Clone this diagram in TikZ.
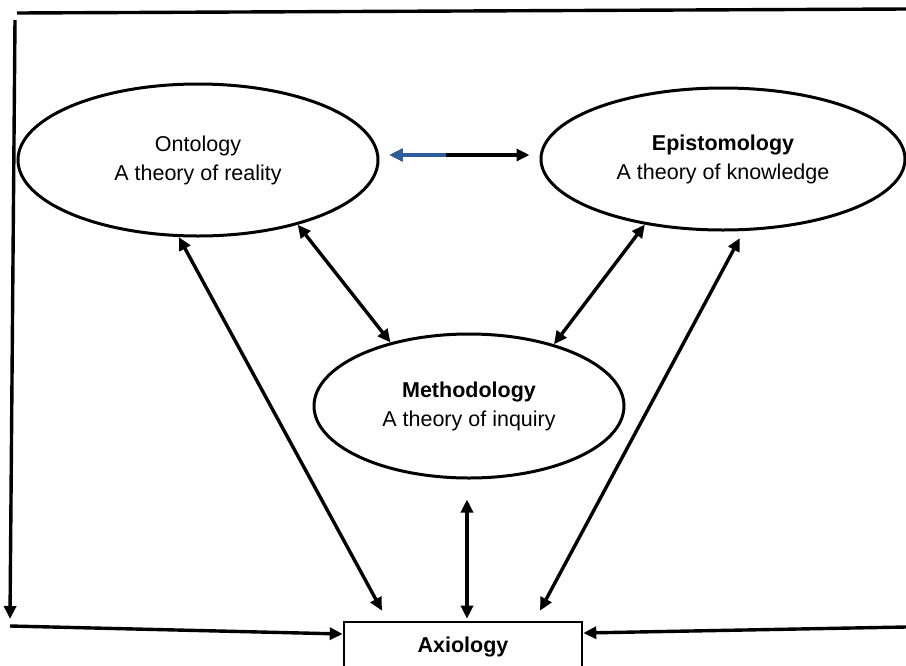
\documentclass[tikz,border=0pt]{standalone}
\usepackage{fontspec}
\setmainfont{Liberation Sans}
\usetikzlibrary{shapes.geometric,arrows.meta,calc}
\definecolor{arrblue}{HTML}{2F5C9A}
\begin{document}
\begin{tikzpicture}[x=1pt,y=-1pt,
  ell/.style={draw, ellipse, line width=3pt, inner sep=0pt, align=center, font=\fontsize{21.5}{29}\selectfont},
  tip/.style={Triangle[length=13pt,width=12pt]},
  arr/.style={line width=3.4pt, {Triangle[length=13pt,width=12pt]}-{Triangle[length=13pt,width=12pt]}},
  one/.style={line width=3.4pt, -{Triangle[length=13pt,width=12pt]}},
  frame/.style={line width=3.4pt}
]
\useasboundingbox (0,0) rectangle (906,665);
\node[ell, minimum width=360pt, minimum height=152pt] (ont) at (198,160) {Ontology\\A theory of reality};
\node[ell, minimum width=364pt, minimum height=142pt] (epi) at (723,159) {\textbf{Epistomology}\\A theory of knowledge};
\node[ell, minimum width=310pt, minimum height=144pt] (meth) at (469,406) {\textbf{Methodology}\\A theory of inquiry};
\node[draw, line width=2.6pt, minimum width=238pt, minimum height=50pt, inner sep=0pt, font=\fontsize{21.5}{26}\selectfont\bfseries] (axi) at (463,647) {Axiology};
% frame
\coordinate (tl) at (17,13);
\coordinate (tr) at (906,9);
\coordinate (lt) at (15,20);
\coordinate (lb) at (10,619);
\coordinate (bl) at (10,626);
\coordinate (br) at (906,627);
\draw[frame] (tl) -- (tr);
\draw[one] (lt) -- (lb);
\draw[one] (bl) -- ([yshift=13pt]axi.west);
\draw[one] (br) -- ([yshift=14pt]axi.east);
% top double arrow
\coordinate (ta) at ([shift={(10pt,5pt)}]ont.east);
\coordinate (tb) at ([shift={(-10pt,4pt)}]epi.west);
\draw[arr] (ta) -- (tb);
\draw[line width=3.4pt, arrblue, {Triangle[length=13pt,width=12pt]}-] (ta) -- ($(ta)!0.4!(tb)$);
% diagonals
\draw[arr] (ont.-104) -- ([shift={(-81pt,10pt)}]axi.north);
\draw[arr] (ont.-33) -- (meth.141);
\draw[arr] (epi.-140) -- (meth.36);
\draw[arr, shorten <=8pt] (epi.-74) -- ([shift={(77pt,10pt)}]axi.north);
\draw[arr, shorten <=20pt, shorten >=2pt] ([xshift=-2pt]meth.south) -- ([xshift=4pt]axi.north);
\end{tikzpicture}
\end{document}
